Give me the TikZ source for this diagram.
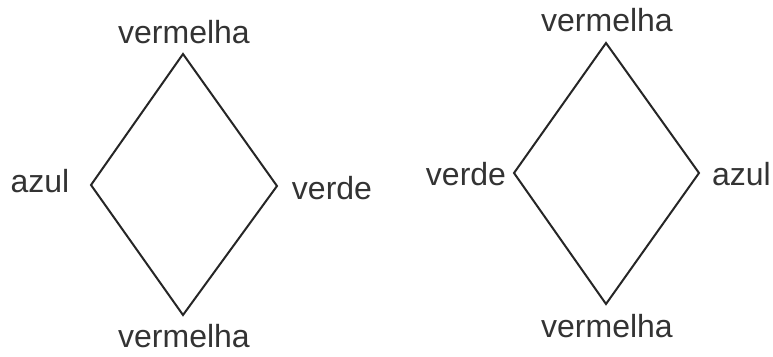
\documentclass[tikz,border=0pt]{standalone}
\usepackage{fontspec}
\setmainfont{Liberation Sans}
\begin{document}
\begin{tikzpicture}[x=1pt,y=-1pt,
  lbl/.style={anchor=base,inner sep=0pt,font=\fontsize{32}{36}\selectfont,text=black!80},
  edge/.style={line width=2pt,draw=black!85,line join=miter}]
\useasboundingbox (0,0) rectangle (773,356);
% first rhombus
\coordinate (a1) at (183,54);
\coordinate (b1) at (91,185);
\coordinate (c1) at (183,315);
\coordinate (d1) at (277,186);
\draw[edge] (a1) -- (d1) -- (c1) -- (b1) -- cycle;
\node[lbl] (ta) at (184,43) {vermelha};
\node[lbl] (la) at (40,192) {azul};
\node[lbl] (ra) at (332,199) {verde};
\node[lbl] (ba) at (184,347) {vermelha};
% second rhombus
\coordinate (a2) at (606,43);
\coordinate (b2) at (514,173);
\coordinate (c2) at (606,304);
\coordinate (d2) at (699,173);
\draw[edge] (a2) -- (d2) -- (c2) -- (b2) -- cycle;
\node[lbl] (tb) at (607,31) {vermelha};
\node[lbl] (lb) at (466,185) {verde};
\node[lbl] (rb) at (741.5,185) {azul};
\node[lbl] (bb) at (607,337) {vermelha};
\end{tikzpicture}
\end{document}
